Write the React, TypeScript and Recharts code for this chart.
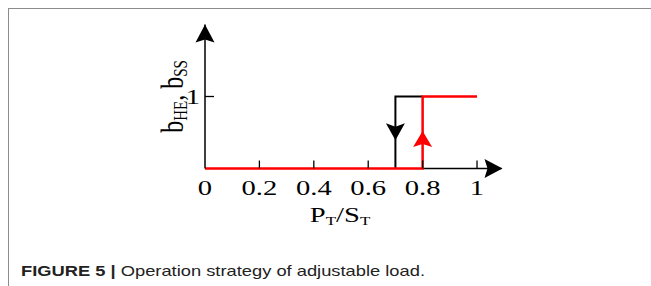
import React from 'react';
import { LineChart, Line, XAxis, YAxis, ReferenceDot, ReferenceLine, Label } from 'recharts';

// axis ticks
const xTicks = [0, 0.2, 0.4, 0.6, 0.8, 1];
const xTickLabels = ['0', '0.2', '0.4', '0.6', '0.8', '1'];
const yTicks = [1];
const yTickLabels = ['1'];

// switching curves (hysteresis)
const switchOn = [
  { x: 0, y: 0 },
  { x: 0.8, y: 0 },
  { x: 0.8, y: 1 },
  { x: 1, y: 1 },
];
const switchOff = [
  { x: 0.7, y: 0 },
  { x: 0.7, y: 1 },
  { x: 0.8, y: 1 },
];

// direction markers on the vertical segments
const offArrow = { x: 0.7, y: 0.51 };
const onArrow = { x: 0.8, y: 0.41 };

const X_MAX = 1.09;
const Y_MAX = 2;

const SERIF = '"Liberation Serif", "Times New Roman", serif';
const SX = 1.3; // the source figure is stretched horizontally

const XTick = (p: any) => {
  const { x, y, index } = p;
  return (
    <g>
      {index > 0 && <line x1={x} y1={y} x2={x} y2={y - 8} stroke="#000" strokeWidth={1.3} />}
      <text
        transform={`translate(${x},${y + 26.5}) scale(${SX},1)`}
        textAnchor="middle"
        fontFamily={SERIF}
        fontSize={22}
        fill="#000"
      >
        {xTickLabels[index]}
      </text>
    </g>
  );
};

const YTick = (p: any) => {
  const { x, y, index } = p;
  return (
    <g>
      <line x1={x} y1={y} x2={x + 9} y2={y} stroke="#000" strokeWidth={1.3} />
      <text
        transform={`translate(${x - 5},${y + 7.5}) scale(${SX},1)`}
        textAnchor="end"
        fontFamily={SERIF}
        fontSize={22}
        fill="#000"
      >
        {yTickLabels[index]}
      </text>
    </g>
  );
};

const upHead = (fill: string) => (p: any) => {
  const { cx, cy } = p;
  return <path d={`M${cx},${cy - 8} L${cx + 9.5},${cy + 8} L${cx},${cy + 5} L${cx - 9.5},${cy + 8} Z`} fill={fill} />;
};
const downHead = (fill: string) => (p: any) => {
  const { cx, cy } = p;
  return <path d={`M${cx},${cy + 8.5} L${cx + 9.5},${cy - 8.5} L${cx},${cy - 5} L${cx - 9.5},${cy - 8.5} Z`} fill={fill} />;
};
const yAxisHead = (p: any) => {
  const { cx, cy } = p;
  return <path d={`M${cx},${cy} L${cx + 9.5},${cy + 18} L${cx},${cy + 15} L${cx - 9.5},${cy + 18} Z`} fill="#000" />;
};
const xAxisHead = (p: any) => {
  const { cx, cy } = p;
  return <path d={`M${cx + 1},${cy} L${cx - 17},${cy - 9.5} L${cx - 14},${cy} L${cx - 17},${cy + 9.5} Z`} fill="#000" />;
};

const XTitle = (p: any) => {
  const { viewBox } = p;
  const cx = viewBox.x + 135;
  const y = viewBox.y + 53;
  return (
    <text transform={`translate(${cx},${y}) scale(${SX},1)`} textAnchor="middle" fontFamily={SERIF} fontSize={22} fill="#000">
      P<tspan fontSize={13} dy={3}>T</tspan>
      <tspan dy={-3}>/S</tspan>
      <tspan fontSize={13} dy={3}>T</tspan>
    </text>
  );
};

const YTitle = (p: any) => {
  const { viewBox } = p;
  const x = viewBox.x + viewBox.width - 22;
  const cy = viewBox.y + viewBox.height / 2;
  return (
    <text
      transform={`translate(${x},${cy}) scale(${SX},1) rotate(-90)`}
      textAnchor="middle"
      fontFamily={SERIF}
      fontSize={24}
      fill="#000"
    >
      b<tspan fontSize={15} dy={3}>HE</tspan>
      <tspan dy={-3}>, b</tspan>
      <tspan fontSize={15} dy={3}>SS</tspan>
    </text>
  );
};

export default function App() {
  return (
    <div style={{ position: 'absolute', left: 0, top: 0, width: 651, height: 286, background: '#fff', overflow: 'hidden' }}>
      <div
        style={{
          position: 'absolute',
          left: 7.5,
          top: 7.5,
          width: 660,
          height: 300,
          borderTop: '1.5px solid #8c8c8c',
          borderLeft: '1.5px solid #8c8c8c',
        }}
      />
      <div style={{ position: 'absolute', left: 0, top: 0 }}>
        <LineChart width={651} height={286} margin={{ top: 24.5, right: 149.5, bottom: 116.5, left: 204 }}>
          <XAxis
            type="number"
            dataKey="x"
            domain={[0, X_MAX]}
            ticks={xTicks}
            tickSize={0}
            tickMargin={0}
            tick={<XTick />}
            tickLine={false}
            height={1}
            axisLine={false}
          >
            <Label content={<XTitle />} />
          </XAxis>
          <YAxis
            type="number"
            dataKey="y"
            domain={[0, Y_MAX]}
            ticks={yTicks}
            tickSize={0}
            tickMargin={0}
            tick={<YTick />}
            tickLine={false}
            width={1}
            axisLine={{ stroke: '#000', strokeWidth: 1.5 }}
          >
            <Label content={<YTitle />} />
          </YAxis>
          {/* visible part of the x axis; the red curve covers 0..0.8 */}
          <ReferenceLine
            segment={[
              { x: 0.8, y: 0 },
              { x: X_MAX, y: 0 },
            ]}
            stroke="#000"
            strokeWidth={1.5}
            ifOverflow="visible"
          />
          <Line
            data={switchOff}
            dataKey="y"
            type="linear"
            stroke="#000"
            strokeWidth={2}
            dot={false}
            isAnimationActive={false}
            strokeLinejoin="miter"
          />
          <Line
            data={switchOn}
            dataKey="y"
            type="linear"
            stroke="#ff0000"
            strokeWidth={2.5}
            dot={false}
            isAnimationActive={false}
            strokeLinejoin="miter"
          />
          <ReferenceDot x={offArrow.x} y={offArrow.y} ifOverflow="visible" shape={downHead('#000')} />
          <ReferenceDot x={onArrow.x} y={onArrow.y} ifOverflow="visible" shape={upHead('#ff0000')} />
          <ReferenceDot x={0} y={Y_MAX} ifOverflow="visible" shape={yAxisHead} />
          <ReferenceDot x={X_MAX} y={0} ifOverflow="visible" shape={xAxisHead} />
        </LineChart>
      </div>
      <svg width={651} height={286} style={{ position: 'absolute', left: 0, top: 0, pointerEvents: 'none' }}>
        <text
          x={21}
          y={276}
          fontFamily='"Liberation Sans", Arial, sans-serif'
          fontSize={14.5}
          fill="#222"
          textLength={404}
          lengthAdjust="spacingAndGlyphs"
        >
          <tspan fontWeight="bold">FIGURE 5 | </tspan>
          Operation strategy of adjustable load.
        </text>
      </svg>
    </div>
  );
}
